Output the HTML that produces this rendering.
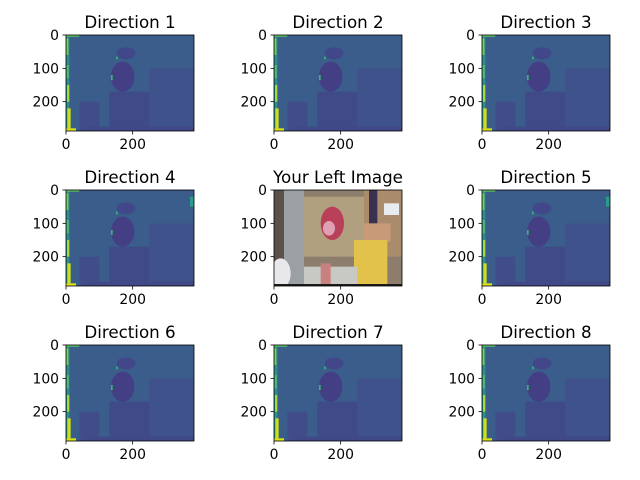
<!DOCTYPE html>
<html><head><meta charset="utf-8"><style>
html,body{margin:0;padding:0;background:#fff;}
svg{display:block;font-family:"DejaVu Sans","Liberation Sans",sans-serif;}
</style></head><body>
<svg id="fig" width="640" height="480" viewBox="0 0 640 480" xmlns="http://www.w3.org/2000/svg">
<defs>
<clipPath id="cp"><rect x="0" y="0" width="128" height="96"/></clipPath>
</defs>
</svg>
<script>
const titles = ["Direction 1","Direction 2","Direction 3","Direction 4","Your Left Image","Direction 5","Direction 6","Direction 7","Direction 8"];
const xTicks = [0, 200];
const yTicks = [0, 100, 200];
const imgW = 384, imgH = 288;
const colX = [66, 274, 482];
const rowY = [35, 190, 345];
const NS = "http://www.w3.org/2000/svg";
const svg = document.getElementById('fig');
const axW = 128, axH = 96;
function sx(v){ return v/imgW*axW; }
function sy(v){ return v/imgH*axH; }
function mk(tag, attrs, parent){ const e=document.createElementNS(NS,tag); for(const k in attrs) e.setAttribute(k,attrs[k]); parent.appendChild(e); return e; }

function drawDisparity(g, idx){
  mk('rect',{x:0,y:0,width:axW,height:axH,fill:'#3a5d8c'},g);
  mk('rect',{x:sx(250),y:sy(100),width:sx(134),height:sy(188),fill:'#3f528b'},g);
  mk('rect',{x:sx(130),y:sy(170),width:sx(120),height:sy(118),fill:'#414a89'},g);
  mk('rect',{x:sx(40),y:sy(200),width:sx(60),height:sy(88),fill:'#404d89'},g);
  mk('ellipse',{cx:sx(170),cy:sy(125),rx:sx(35),ry:sy(45),fill:'#443e85'},g);
  mk('ellipse',{cx:sx(180),cy:sy(55),rx:sx(28),ry:sy(18),fill:'#414788'},g);
  mk('rect',{x:sx(60),y:sy(275),width:sx(324),height:sy(13),fill:'#414888'},g);
  mk('rect',{x:0,y:0,width:sx(10),height:axH,fill:'#2f8f8c'},g);
  mk('rect',{x:sx(1),y:sy(10),width:sx(6),height:sy(50),fill:'#7ad151'},g);
  mk('rect',{x:sx(2),y:sy(90),width:sx(6),height:sy(40),fill:'#4fc16a'},g);
  mk('rect',{x:sx(3),y:sy(150),width:sx(7),height:sy(50),fill:'#a5db36'},g);
  mk('rect',{x:sx(4),y:sy(220),width:sx(10),height:sy(60),fill:'#c8e020'},g);
  mk('rect',{x:0,y:sy(280),width:sx(30),height:sy(8),fill:'#dde318'},g);
  mk('rect',{x:0,y:0,width:sx(40),height:sy(5),fill:'#5ec962'},g);
  mk('rect',{x:sx(135),y:sy(120),width:sx(5),height:sy(15),fill:'#35b779'},g);
  mk('rect',{x:sx(150),y:sy(65),width:sx(5),height:sy(8),fill:'#35b779'},g);
  if(idx===3||idx===5){ mk('rect',{x:sx(372),y:sy(20),width:sx(12),height:sy(30),fill:'#2a9c8a'},g); }
}
function drawPhoto(g){
  mk('rect',{x:0,y:0,width:axW,height:axH,fill:'#8c7d6c'},g);
  mk('rect',{x:0,y:0,width:sx(30),height:axH,fill:'#5a524a'},g);
  mk('rect',{x:sx(30),y:0,width:sx(60),height:axH,fill:'#9aa0a4'},g);
  mk('rect',{x:sx(90),y:sy(20),width:sx(180),height:sy(180),fill:'#b0a080'},g);
  mk('rect',{x:sx(270),y:0,width:sx(114),height:sy(200),fill:'#a88c6c'},g);
  mk('rect',{x:sx(285),y:0,width:sx(25),height:sy(110),fill:'#3a3050'},g);
  mk('rect',{x:sx(330),y:sy(40),width:sx(45),height:sy(35),fill:'#e8ecf0'},g);
  mk('rect',{x:sx(270),y:sy(100),width:sx(80),height:sy(55),fill:'#c89a78'},g);
  mk('rect',{x:sx(240),y:sy(150),width:sx(100),height:sy(138),fill:'#e2c24a'},g);
  mk('rect',{x:sx(90),y:sy(230),width:sx(160),height:sy(58),fill:'#c8c8c4'},g);
  mk('rect',{x:sx(140),y:sy(220),width:sx(30),height:sy(68),fill:'#c88080'},g);
  mk('ellipse',{cx:sx(20),cy:sy(250),rx:sx(30),ry:sy(45),fill:'#e8e8ec'},g);
  mk('ellipse',{cx:sx(175),cy:sy(100),rx:sx(35),ry:sy(50),fill:'#b84058'},g);
  mk('ellipse',{cx:sx(165),cy:sy(115),rx:sx(18),ry:sy(22),fill:'#e0a0b4'},g);
  mk('rect',{x:0,y:sy(282),width:sx(384),height:sy(6),fill:'#201c1c'},g);
}
titles.forEach((t,i)=>{
  const r=Math.floor(i/3), c=i%3;
  const g=mk('g',{transform:`translate(${colX[c]},${rowY[r]})`},svg);
  
  
  const ig=mk('g',{'clip-path':'url(#cp)'},g);
  
  
  if(i===4) drawPhoto(ig); else drawDisparity(ig,i);
  const fr=mk('rect',{x:0,y:0,width:axW,height:axH,fill:'none',stroke:'#000','stroke-width':0.8},g);
  
  
  const tt=mk('text',{x:axW/2,y:-7,'text-anchor':'middle','font-size':16.7,fill:'#000'},g);
  
  
  tt.textContent=t;
  xTicks.forEach(v=>{
    const x=sx(v);
    mk('line',{x1:x,y1:axH,x2:x,y2:axH+3.5,stroke:'#000','stroke-width':0.8},g);
    const l=mk('text',{x:x,y:axH+18,'text-anchor':'middle','font-size':13.9,fill:'#000'},g);
    
    
    l.textContent=v;
  });
  yTicks.forEach(v=>{
    const y=sy(v);
    mk('line',{x1:0,y1:y,x2:-3.5,y2:y,stroke:'#000','stroke-width':0.8},g);
    const l=mk('text',{x:-7,y:y+5,'text-anchor':'end','font-size':13.9,fill:'#000'},g);
    
    
    l.textContent=v;
  });
});
</script>
</body></html>
